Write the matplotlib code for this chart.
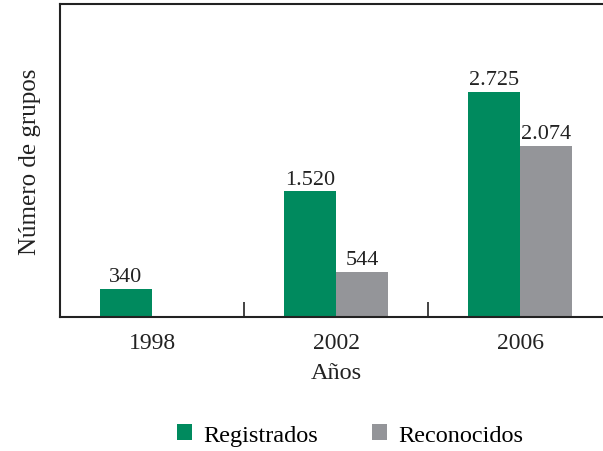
import matplotlib
matplotlib.use('Agg')
import matplotlib.pyplot as plt
import numpy as np

plt.rcParams['font.family'] = ['Liberation Serif', 'DejaVu Serif']

years = ['1998', '2002', '2006']
registrados = [340, 1520, 2725]
reconocidos = [None, 544, 2074]
labels_reg = ['340', '1.520', '2.725']
labels_rec = ['', '544', '2.074']

C_REG = '#008a5e'
C_REC = '#949599'
W = 0.283

fig = plt.figure(figsize=(6.03, 4.52), dpi=100)
ax = fig.add_axes([60/603, 1 - 318/452, 552/603, 313/452])

x = np.arange(len(years))
rec_vals = [v if v is not None else 0 for v in reconocidos]
b1 = ax.bar(x - W/2, registrados, W, color=C_REG, label='Registrados')
b2 = ax.bar(x + W/2, rec_vals, W, color=C_REC, label='Reconocidos')

for bar, t in zip(b1, labels_reg):
    ax.annotate(t, (bar.get_x() + bar.get_width()/2, bar.get_height()),
                xytext=(0, 2), textcoords='offset points', ha='center', va='bottom',
                fontsize=16, color='#222222')
for bar, t in zip(b2, labels_rec):
    if t:
        ax.annotate(t, (bar.get_x() + bar.get_width()/2, bar.get_height()),
                    xytext=(0, 2), textcoords='offset points', ha='center', va='bottom',
                    fontsize=16, color='#222222')

ax.set_xlim(-0.5, 2.5)
ax.set_ylim(0, 3790)
ax.set_yticks([])
ax.set_xticks(x)
ax.set_xticklabels(years, fontsize=17, color='#222222')
ax.tick_params(axis='x', which='major', length=0, pad=11)
ax.set_xticks([0.5, 1.5], minor=True)
ax.tick_params(axis='x', which='minor', direction='in', length=11, width=1.2, color='#222222')

ax.set_xlabel('Años', fontsize=17.5, color='#222222', labelpad=6)
ax.set_ylabel('Número de grupos', fontsize=18, color='#222222', labelpad=14)

for s in ['left', 'top', 'bottom']:
    ax.spines[s].set_linewidth(1.5)
    ax.spines[s].set_color('#222222')
ax.spines['right'].set_visible(False)

fig.legend(handles=[b1, b2], labels=['Registrados', 'Reconocidos'],
           loc='center', bbox_to_anchor=(350/603, 1 - 436/452), ncol=2,
           frameon=False, fontsize=17.5, handlelength=0.65, handleheight=0.65,
           handletextpad=0.45, columnspacing=2.2)

fig.savefig('out.png', dpi=100, facecolor='white')
